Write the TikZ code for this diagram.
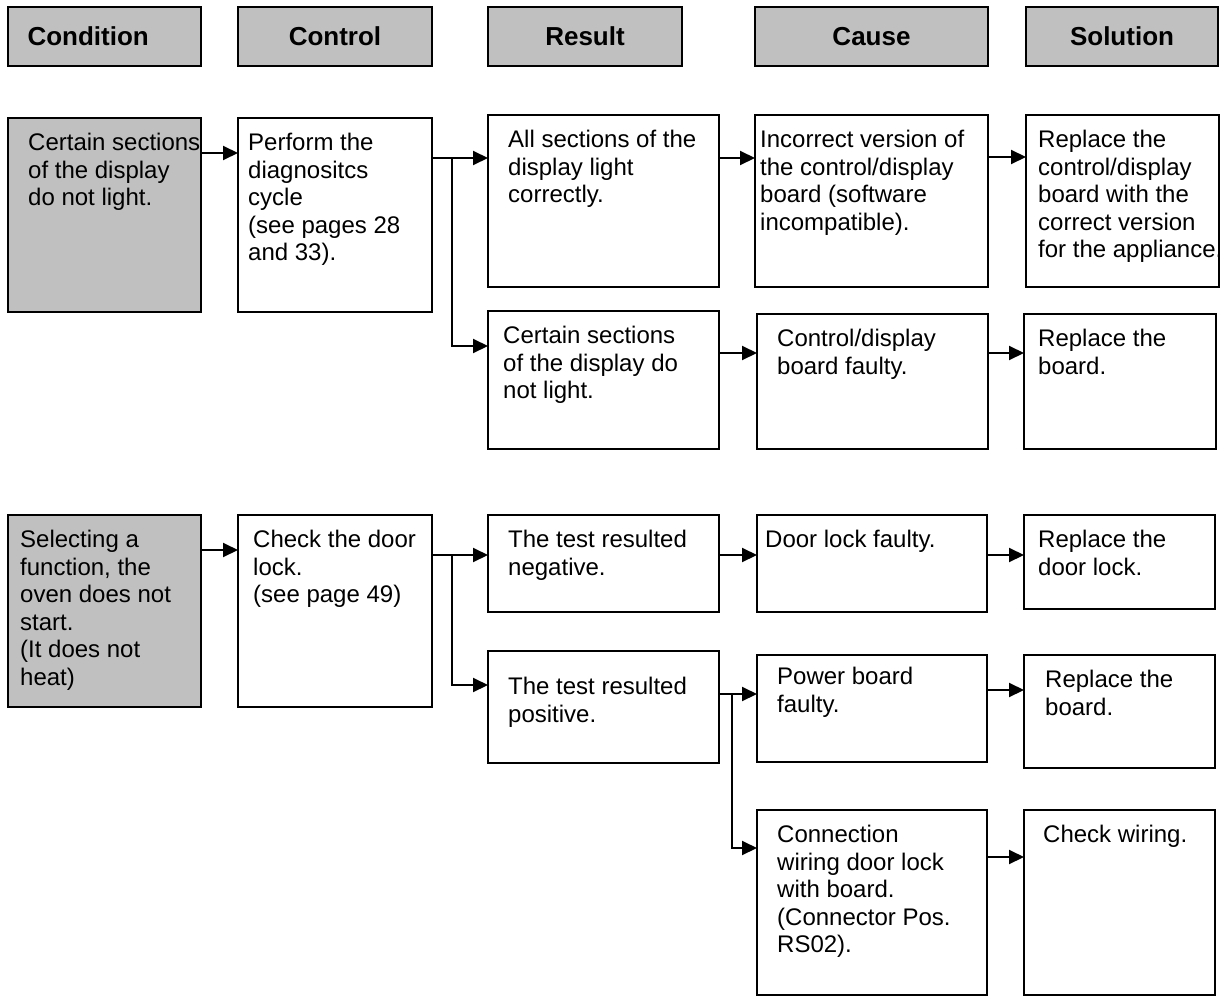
\documentclass[tikz,border=0pt]{standalone}
\usepackage{fontspec}
\setmainfont{Liberation Sans}
\usetikzlibrary{arrows.meta}
\definecolor{CondGray}{RGB}{192,192,192}
\tikzset{
  head/.style={draw=black, fill=CondGray, line width=2pt, inner sep=0pt, outer sep=0pt,
               minimum height=59pt, font=\fontsize{26}{30}\selectfont\bfseries},
  cell/.style={draw=black, line width=2pt, inner sep=0pt, outer sep=0pt, anchor=north west},
  lbl/.style={anchor=north west, inner sep=0pt, align=left, xshift=#1, yshift=-15pt,
              font=\fontsize{24}{27.5}\selectfont},
  lbl/.default=20pt,
  arr/.style={-{Triangle[length=15pt,width=14pt]}, line width=2pt}
}

\begin{document}
\begin{tikzpicture}[x=1pt, y=-1pt]
\useasboundingbox (0,0) rectangle (1226,998);

% column heads
\node[head, minimum width=193pt, text width=154pt, inner xsep=19.5pt, align=left] (hcond) at (104.5,36.5) {Condition};
\node[head, minimum width=194pt] (hctrl) at (335,36.5) {Control};
\node[head, minimum width=194pt] (hres) at (585,36.5) {Result};
\node[head, minimum width=233pt] (hcause) at (871.5,36.5) {Cause};
\node[head, minimum width=192pt] (hsol) at (1122,36.5) {Solution};

% display fault
\node[cell, fill=CondGray, minimum width=193pt, minimum height=194pt,
      label={[lbl]north west:{Certain sections\\of the display\\do not light.}}] (cond1) at (8,118) {};
\node[cell, minimum width=194pt, minimum height=194pt,
      label={[lbl=10pt]north west:{Perform the\\diagnositcs\\cycle\\(see pages 28\\and 33).}}] (ctrl1) at (238,118) {};
\node[cell, minimum width=231pt, minimum height=172pt,
      label={[lbl]north west:{All sections of the\\display light\\correctly.}}] (res1) at (488,115) {};
\node[cell, minimum width=233pt, minimum height=172pt,
      label={[lbl=5pt]north west:{Incorrect version of\\the control/display\\board (software\\incompatible).}}] (cause1) at (755,115) {};
\node[cell, minimum width=193pt, minimum height=172pt,
      label={[lbl=12pt]north west:{Replace the\\control/display\\board with the\\correct version\\for the appliance.}}] (sol1) at (1026,115) {};
\node[cell, minimum width=231pt, minimum height=138pt,
      label={[lbl=15pt]north west:{Certain sections\\of the display do\\not light.}}] (res2) at (488,311) {};
\node[cell, minimum width=231pt, minimum height=135pt,
      label={[lbl]north west:{Control/display\\board faulty.}}] (cause2) at (757,314) {};
\node[cell, minimum width=192pt, minimum height=135pt,
      label={[lbl=14pt]north west:{Replace the\\board.}}] (sol2) at (1024,314) {};

% oven does not start
\node[cell, fill=CondGray, minimum width=193pt, minimum height=192pt,
      label={[lbl=12pt]north west:{Selecting a\\function, the\\oven does not\\start.\\(It does not\\heat)}}] (cond2) at (8,515) {};
\node[cell, minimum width=194pt, minimum height=192pt,
      label={[lbl=15pt]north west:{Check the door\\lock.\\(see page 49)}}] (ctrl2) at (238,515) {};
\node[cell, minimum width=231pt, minimum height=97pt,
      label={[lbl]north west:{The test resulted\\negative.}}] (res3) at (488,515) {};
\node[cell, minimum width=230pt, minimum height=97pt,
      label={[lbl=8pt]north west:{Door lock faulty.}}] (cause3) at (757,515) {};
\node[cell, minimum width=191pt, minimum height=94pt,
      label={[lbl=14pt]north west:{Replace the\\door lock.}}] (sol3) at (1024,515) {};
\node[cell, minimum width=231pt, minimum height=112pt,
      label={[lbl, yshift=-11pt]north west:{The test resulted\\positive.}}] (res4) at (488,651) {};
\node[cell, minimum width=230pt, minimum height=107pt,
      label={[lbl, yshift=3pt]north west:{Power board\\faulty.}}] (cause4) at (757,655) {};
\node[cell, minimum width=191pt, minimum height=113pt,
      label={[lbl=21pt]north west:{Replace the\\board.}}] (sol4) at (1024,655) {};
\node[cell, minimum width=230pt, minimum height=185pt,
      label={[lbl]north west:{Connection\\wiring door lock\\with board.\\(Connector Pos.\\RS02).}}] (cause5) at (757,810) {};
\node[cell, minimum width=191pt, minimum height=185pt,
      label={[lbl=19pt]north west:{Check wiring.}}] (sol5) at (1024,810) {};

% connectors
\draw[arr] ([yshift=-35pt]cond1.north east) -- ([yshift=-35pt]ctrl1.north west);
\draw[arr] ([yshift=-40pt]ctrl1.north east) -- ([yshift=-43pt]res1.north west);
\draw[arr] ([xshift=20pt,yshift=-40pt]ctrl1.north east) |- ([yshift=-35pt]res2.north west);
\draw[arr] ([yshift=-43pt]res1.north east) -- ([yshift=-43pt]cause1.north west);
\draw[arr] ([yshift=-42pt]cause1.north east) -- ([yshift=-42pt]sol1.north west);
\draw[arr] ([yshift=-42pt]res2.north east) -- ([yshift=-39pt]cause2.north west);
\draw[arr] ([yshift=-39pt]cause2.north east) -- ([yshift=-39pt]sol2.north west);

\draw[arr] ([yshift=-35pt]cond2.north east) -- ([yshift=-35pt]ctrl2.north west);
\draw[arr] ([yshift=-40pt]ctrl2.north east) -- ([yshift=-40pt]res3.north west);
\draw[arr] ([xshift=20pt,yshift=-40pt]ctrl2.north east) |- ([yshift=-34pt]res4.north west);
\draw[arr] ([yshift=-40pt]res3.north east) -- ([yshift=-40pt]cause3.north west);
\draw[arr] ([yshift=-40pt]cause3.north east) -- ([yshift=-40pt]sol3.north west);
\draw[arr] ([yshift=-43pt]res4.north east) -- ([yshift=-39pt]cause4.north west);
\draw[arr] ([xshift=13pt,yshift=-43pt]res4.north east) |- ([yshift=-38pt]cause5.north west);
\draw[arr] ([yshift=-35pt]cause4.north east) -- ([yshift=-35pt]sol4.north west);
\draw[arr] ([yshift=-47pt]cause5.north east) -- ([yshift=-47pt]sol5.north west);
\end{tikzpicture}
\end{document}
